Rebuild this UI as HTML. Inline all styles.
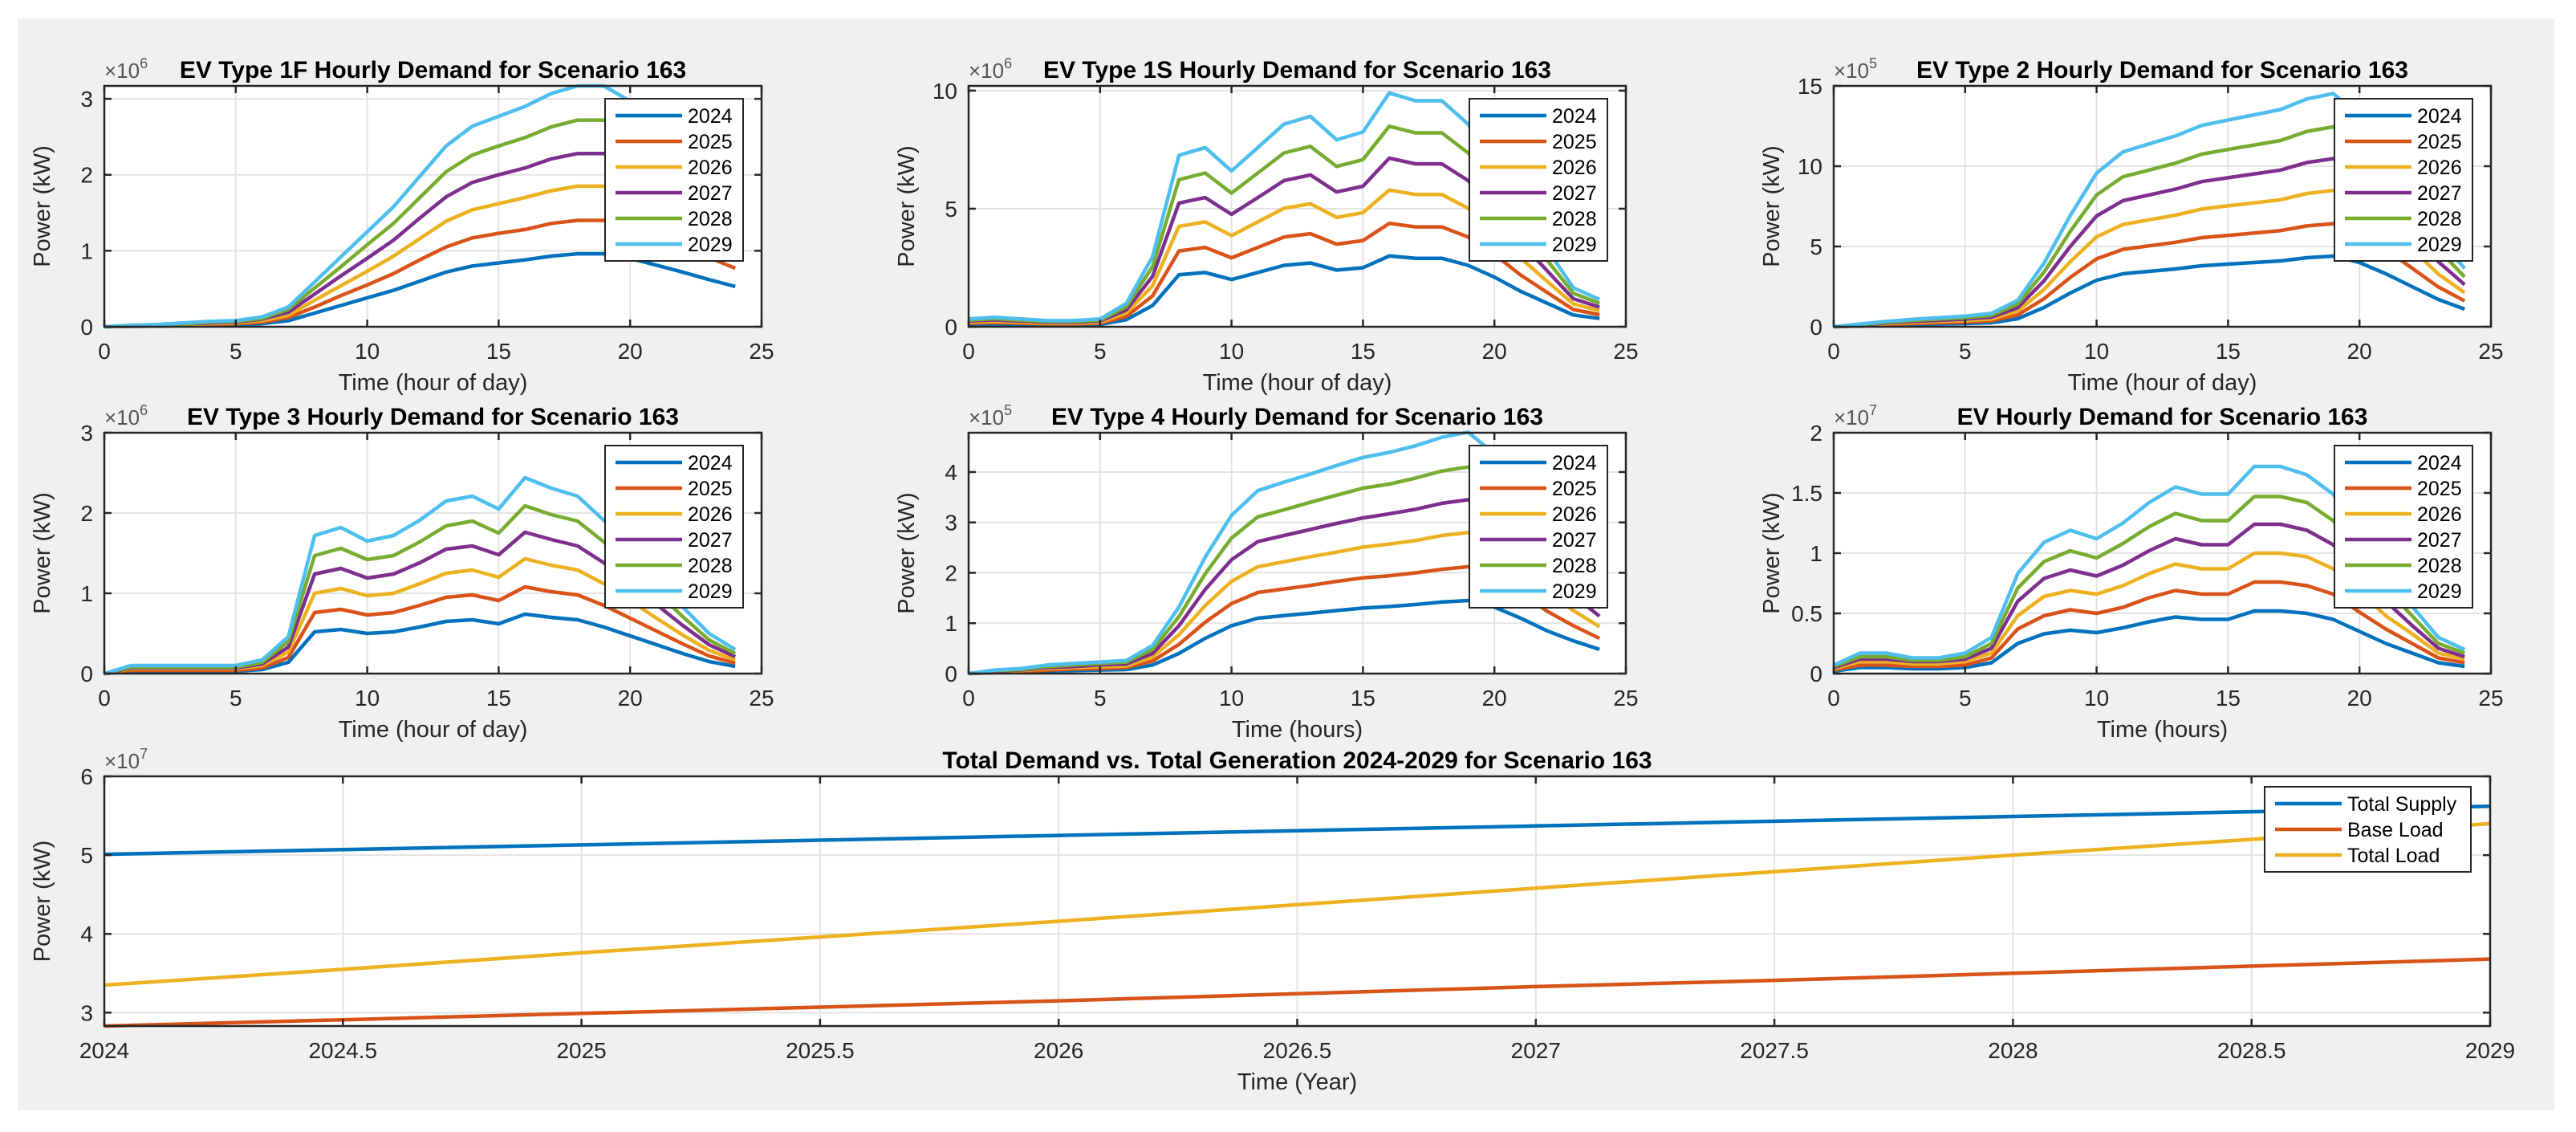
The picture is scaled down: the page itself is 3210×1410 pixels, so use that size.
<!DOCTYPE html>
<html><head><meta charset="utf-8">
<style>
html,body{margin:0;padding:0;background:#fff;}
svg{display:block;font-family:"Liberation Sans",Arial,sans-serif;}
</style></head>
<body>
<svg id="fig" width="3210" height="1410" viewBox="0 0 3210 1410" xmlns="http://www.w3.org/2000/svg">
<rect x="22" y="23" width="3161" height="1360" fill="#f0f0f0"/>
</svg>
<script>
// ---------- DATA ----------
const hours = [0,1,2,3,4,5,6,7,8,9,10,11,12,13,14,15,16,17,18,19,20,21,22,23,24];
const years = ['2024','2025','2026','2027','2028','2029'];

const t1f_2024 = [0,0.005,0.01,0.015,0.02,0.025,0.04,0.08,0.18,0.28,0.38,0.48,0.6,0.72,0.8,0.84,0.88,0.93,0.96,0.96,0.9,0.81,0.72,0.62,0.53];
const t1f_2025 = [0,0.01,0.015,0.02,0.03,0.04,0.06,0.12,0.26,0.41,0.55,0.70,0.88,1.05,1.17,1.23,1.28,1.36,1.40,1.40,1.31,1.18,1.05,0.91,0.77];
const t1f_2026 = [0,0.01,0.02,0.03,0.04,0.05,0.08,0.15,0.35,0.54,0.73,0.93,1.16,1.39,1.54,1.62,1.70,1.79,1.85,1.85,1.74,1.56,1.39,1.20,1.02];
const t1f_2027 = [0,0.01,0.02,0.04,0.05,0.06,0.10,0.19,0.43,0.67,0.90,1.14,1.43,1.71,1.90,2.00,2.09,2.21,2.28,2.28,2.14,1.93,1.71,1.48,1.26];
const t1f_2028 = [0,0.01,0.03,0.04,0.06,0.07,0.11,0.23,0.51,0.79,1.08,1.36,1.70,2.04,2.26,2.38,2.49,2.63,2.72,2.72,2.55,2.29,2.04,1.75,1.50];
const t1f_2029 = [0,0.02,0.03,0.05,0.07,0.08,0.13,0.26,0.59,0.92,1.25,1.58,1.98,2.38,2.64,2.77,2.90,3.07,3.17,3.17,2.97,2.67,2.38,2.05,1.75];

const t1s_2024 = [0.1,0.12,0.1,0.08,0.08,0.1,0.3,0.9,2.2,2.3,2.0,2.3,2.6,2.7,2.4,2.5,3.0,2.9,2.9,2.6,2.1,1.5,1.0,0.5,0.35];
const t1s_2025 = [0.15,0.18,0.15,0.12,0.12,0.15,0.44,1.31,3.21,3.36,2.92,3.36,3.80,3.94,3.50,3.65,4.38,4.23,4.23,3.80,3.07,2.19,1.46,0.73,0.51];
const t1s_2026 = [0.19,0.23,0.19,0.15,0.15,0.19,0.58,1.74,4.25,4.44,3.86,4.44,5.02,5.21,4.63,4.83,5.79,5.60,5.60,5.02,4.05,2.90,1.93,0.97,0.68];
const t1s_2027 = [0.24,0.29,0.24,0.19,0.19,0.24,0.71,2.14,5.24,5.47,4.76,5.47,6.19,6.43,5.71,5.95,7.14,6.90,6.90,6.19,5.00,3.57,2.38,1.19,0.83];
const t1s_2028 = [0.28,0.34,0.28,0.23,0.23,0.28,0.85,2.55,6.23,6.51,5.66,6.51,7.36,7.64,6.79,7.08,8.49,8.21,8.21,7.36,5.94,4.25,2.83,1.42,0.99];
const t1s_2029 = [0.33,0.40,0.33,0.26,0.26,0.33,0.99,2.97,7.26,7.59,6.60,7.59,8.58,8.91,7.92,8.25,9.90,9.57,9.57,8.58,6.93,4.95,3.30,1.65,1.16];

const t2_2024 = [0,0.05,0.1,0.14,0.17,0.2,0.25,0.5,1.2,2.1,2.9,3.3,3.45,3.6,3.8,3.9,4.0,4.1,4.3,4.4,4.0,3.3,2.5,1.7,1.1];
const t2_2025 = [0,0.07,0.15,0.20,0.25,0.29,0.37,0.73,1.75,3.07,4.23,4.82,5.04,5.26,5.55,5.69,5.84,5.99,6.28,6.42,5.84,4.82,3.65,2.48,1.61];
const t2_2026 = [0,0.10,0.19,0.27,0.33,0.39,0.48,0.97,2.32,4.05,5.60,6.37,6.66,6.95,7.33,7.53,7.72,7.91,8.30,8.49,7.72,6.37,4.83,3.28,2.12];
const t2_2027 = [0,0.12,0.24,0.33,0.40,0.48,0.60,1.19,2.86,5.00,6.90,7.85,8.21,8.57,9.04,9.28,9.52,9.76,10.23,10.47,9.52,7.85,5.95,4.05,2.62];
const t2_2028 = [0,0.14,0.28,0.40,0.48,0.57,0.71,1.42,3.40,5.94,8.21,9.34,9.76,10.19,10.75,11.04,11.32,11.60,12.17,12.45,11.32,9.34,7.08,4.81,3.11];
const t2_2029 = [0,0.17,0.33,0.46,0.56,0.66,0.83,1.65,3.96,6.93,9.57,10.89,11.39,11.88,12.54,12.87,13.20,13.53,14.19,14.52,13.20,10.89,8.25,5.61,3.63];

const t3_2024 = [0,0.03,0.03,0.03,0.03,0.03,0.05,0.14,0.52,0.55,0.50,0.52,0.58,0.65,0.67,0.62,0.74,0.70,0.67,0.58,0.47,0.36,0.25,0.15,0.09];
const t3_2025 = [0,0.04,0.04,0.04,0.04,0.04,0.07,0.20,0.76,0.80,0.73,0.76,0.85,0.95,0.98,0.91,1.08,1.02,0.98,0.85,0.69,0.53,0.37,0.22,0.13];
const t3_2026 = [0,0.06,0.06,0.06,0.06,0.06,0.10,0.27,1.00,1.06,0.97,1.00,1.12,1.25,1.29,1.20,1.43,1.35,1.29,1.12,0.91,0.69,0.48,0.29,0.17];
const t3_2027 = [0,0.07,0.07,0.07,0.07,0.07,0.12,0.33,1.24,1.31,1.19,1.24,1.38,1.55,1.59,1.48,1.76,1.67,1.59,1.38,1.12,0.86,0.60,0.36,0.21];
const t3_2028 = [0,0.08,0.08,0.08,0.08,0.08,0.14,0.40,1.47,1.56,1.42,1.47,1.64,1.84,1.90,1.75,2.09,1.98,1.90,1.64,1.33,1.02,0.71,0.42,0.25];
const t3_2029 = [0,0.10,0.10,0.10,0.10,0.10,0.17,0.46,1.72,1.82,1.65,1.72,1.91,2.15,2.21,2.05,2.44,2.31,2.21,1.91,1.55,1.19,0.83,0.50,0.30];

const t4_2024 = [0,0.02,0.03,0.05,0.06,0.07,0.08,0.17,0.4,0.7,0.95,1.1,1.15,1.2,1.25,1.3,1.33,1.37,1.42,1.45,1.32,1.1,0.85,0.65,0.48];
const t4_2025 = [0,0.03,0.04,0.07,0.09,0.10,0.12,0.25,0.58,1.02,1.39,1.61,1.68,1.75,1.83,1.90,1.94,2.00,2.07,2.12,1.93,1.61,1.24,0.95,0.70];
const t4_2026 = [0,0.04,0.06,0.10,0.12,0.14,0.15,0.33,0.77,1.35,1.83,2.12,2.22,2.32,2.41,2.51,2.57,2.64,2.74,2.80,2.55,2.12,1.64,1.25,0.93];
const t4_2027 = [0,0.05,0.07,0.12,0.14,0.17,0.19,0.40,0.95,1.67,2.26,2.62,2.74,2.86,2.98,3.09,3.17,3.26,3.38,3.45,3.14,2.62,2.02,1.55,1.14];
const t4_2028 = [0,0.06,0.08,0.14,0.17,0.20,0.23,0.48,1.13,1.98,2.69,3.11,3.25,3.40,3.54,3.68,3.76,3.88,4.02,4.10,3.74,3.11,2.41,1.84,1.36];
const t4_2029 = [0,0.07,0.10,0.17,0.20,0.23,0.26,0.56,1.32,2.31,3.14,3.63,3.80,3.96,4.13,4.29,4.39,4.52,4.69,4.79,4.36,3.63,2.81,2.15,1.58];

const ev_2024 = [0.02,0.05,0.05,0.04,0.04,0.05,0.09,0.25,0.33,0.36,0.34,0.38,0.43,0.47,0.45,0.45,0.52,0.52,0.5,0.45,0.35,0.25,0.17,0.09,0.06];
const ev_2025 = [0.03,0.07,0.07,0.06,0.06,0.07,0.13,0.37,0.48,0.53,0.50,0.55,0.63,0.69,0.66,0.66,0.76,0.76,0.73,0.66,0.51,0.37,0.25,0.13,0.09];
const ev_2026 = [0.04,0.10,0.10,0.08,0.08,0.10,0.17,0.48,0.64,0.69,0.66,0.73,0.83,0.91,0.87,0.87,1.00,1.00,0.97,0.87,0.68,0.48,0.33,0.17,0.12];
const ev_2027 = [0.05,0.12,0.12,0.10,0.10,0.12,0.21,0.60,0.79,0.86,0.81,0.90,1.02,1.12,1.07,1.07,1.24,1.24,1.19,1.07,0.83,0.60,0.40,0.21,0.14];
const ev_2028 = [0.06,0.14,0.14,0.11,0.11,0.14,0.25,0.71,0.93,1.02,0.96,1.08,1.22,1.33,1.27,1.27,1.47,1.47,1.42,1.27,0.99,0.71,0.48,0.25,0.17];
const ev_2029 = [0.07,0.17,0.17,0.13,0.13,0.17,0.30,0.83,1.09,1.19,1.12,1.25,1.42,1.55,1.49,1.49,1.72,1.72,1.65,1.49,1.16,0.83,0.56,0.30,0.20];

const yearTime = [2024,2024.5,2025,2025.5,2026,2026.5,2027,2027.5,2028,2028.5,2029];
const totalSupply = [5.01,5.07,5.13,5.19,5.25,5.31,5.37,5.43,5.49,5.55,5.62];
const baseLoad = [2.83,2.91,2.99,3.07,3.15,3.24,3.33,3.41,3.50,3.59,3.68];
const totalLoad = [3.35,3.55,3.76,3.96,4.16,4.37,4.58,4.79,5.0,5.2,5.4];

const hourTicks = [0,5,10,15,20,25];
const yTicks1 = [0,1,2,3];
const yTicks2 = [0,5,10];
const yTicks3 = [0,5,10,15];
const yTicks4 = [0,1,2,3];
const yTicks5 = [0,1,2,3,4];
const yTicks6 = [0,0.5,1,1.5,2];
const yTickLabels6 = ['0','0.5','1','1.5','2'];
const yearTicks = [2024,2024.5,2025,2025.5,2026,2026.5,2027,2027.5,2028,2028.5,2029];
const yTicksBottom = [3,4,5,6];
const bottomLegend = ['Total Supply','Base Load','Total Load'];

// ---------- RENDER ----------
const NS = 'http://www.w3.org/2000/svg';
const svg = document.getElementById('fig');
const COLORS = ['#0072BD','#D95319','#EDB120','#7E2F8E','#77AC30','#4DBEEE'];

function mk(tag, attrs, parent){
  const e = document.createElementNS(NS, tag);
  for (const k in attrs) e.setAttribute(k, attrs[k]);
  (parent||svg).appendChild(e);
  return e;
}
function txt(str, attrs, parent){
  const e = mk('text', attrs, parent);
  e.textContent = str;
  return e;
}

function drawAxes(cfg){
  const g = mk('g', {});
  
  
  const L=cfg.left, R=cfg.right, T=cfg.top, B=cfg.bottom;
  const sx = v => L + (v-cfg.xmin)/(cfg.xmax-cfg.xmin)*(R-L);
  const sy = v => B - (v-cfg.ymin)/(cfg.ymax-cfg.ymin)*(B-T);
  const bg = mk('rect', {x:L, y:T, width:R-L, height:B-T, fill:'#fff'}, g);
  
  
  cfg.xticks.forEach(v => {
    const gl = mk('line', {x1:sx(v), x2:sx(v), y1:T, y2:B, stroke:'#e3e3e3', 'stroke-width':2}, g);
    
    
  });
  cfg.yticks.forEach(v => {
    const gl = mk('line', {x1:L, x2:R, y1:sy(v), y2:sy(v), stroke:'#e3e3e3', 'stroke-width':2}, g);
    
    
  });
  const cp = mk('clipPath', {id:'clip-'+cfg.id}, g);
  mk('rect', {x:L-3, y:T-8, width:R-L+6, height:B-T+11}, cp);
  cfg.series.forEach((s, i) => {
    const d = s.y.map((v, j) => (j ? 'L' : 'M') + sx(cfg.x[j]).toFixed(1) + ',' + sy(v).toFixed(1)).join(' ');
    const p = mk('path', {d:d, fill:'none', stroke:s.color, 'stroke-width':cfg.lw||4.5, 'stroke-linejoin':'round', 'clip-path':'url(#clip-'+cfg.id+')'}, g);
    
    
  });
  const box = mk('rect', {x:L, y:T, width:R-L, height:B-T, fill:'none', stroke:'#262626', 'stroke-width':2.5}, g);
  
  
  cfg.xticks.forEach((v, i) => {
    mk('line', {x1:sx(v), x2:sx(v), y1:B, y2:B-9, stroke:'#262626', 'stroke-width':2.5}, g);
    mk('line', {x1:sx(v), x2:sx(v), y1:T, y2:T+9, stroke:'#262626', 'stroke-width':2.5}, g);
    const t = txt(cfg.xtickLabels ? cfg.xtickLabels[i] : String(v), {x:sx(v), y:B+40, 'font-size':28, 'text-anchor':'middle', fill:'#262626'}, g);
    
    
  });
  cfg.yticks.forEach((v, i) => {
    mk('line', {x1:L, x2:L+9, y1:sy(v), y2:sy(v), stroke:'#262626', 'stroke-width':2.5}, g);
    mk('line', {x1:R, x2:R-9, y1:sy(v), y2:sy(v), stroke:'#262626', 'stroke-width':2.5}, g);
    const t = txt(cfg.ytickLabels ? cfg.ytickLabels[i] : String(v), {x:L-14, y:sy(v)+10, 'font-size':28, 'text-anchor':'end', fill:'#262626'}, g);
    
    
  });
  const ex = txt('', {x:L, y:T-10, 'font-size':26, fill:'#555'}, g);
  
  
  ex.appendChild(document.createTextNode('\u00d710'));
  const sup = mk('tspan', {dy:-12, 'font-size':18}, ex);
  sup.textContent = cfg.exp;
  const ti = txt(cfg.title, {x:(L+R)/2, y:T-10, 'font-size':30, 'font-weight':'bold', 'text-anchor':'middle', fill:'#000'}, g);
  
  
  const xl = txt(cfg.xlabel, {x:(L+R)/2, y:B+79, 'font-size':29, 'text-anchor':'middle', fill:'#262626'}, g);
  
  
  const yx = L-68, yy = (T+B)/2;
  const yl = txt('Power (kW)', {x:yx, y:yy, 'font-size':29, 'text-anchor':'middle', fill:'#262626', transform:'rotate(-90 '+yx+' '+yy+')'}, g);
  
  
  const lg = mk('g', {}, g);
  
  
  const lw = cfg.legendW, lh = cfg.series.length*32 + 10;
  const lx = R - cfg.legendRight - lw, ly = T + cfg.legendTop;
  mk('rect', {x:lx, y:ly, width:lw, height:lh, fill:'#fff', stroke:'#262626', 'stroke-width':2}, lg);
  cfg.series.forEach((s, i) => {
    const e = mk('g', {}, lg);
    
    
    const cy = ly + 21 + i*32;
    mk('line', {x1:lx+13, x2:lx+96, y1:cy, y2:cy, stroke:s.color, 'stroke-width':4.5}, e);
    txt(s.label, {x:lx+103, y:cy+9, 'font-size':25, fill:'#000'}, e);
  });
}

function hourSeries(arrs){ return arrs.map((a, i) => ({y:a, color:COLORS[i], label:years[i]})); }

const colL = [130, 1207, 2285], colR = [949, 2026, 3104];
const row = [{top:107, bottom:407},{top:539, bottom:839}];
const common = {xmin:0, xmax:25, ymin:0, x:hours, xticks:hourTicks, legendW:172, legendRight:23, legendTop:16};

drawAxes(Object.assign({}, common, {id:'p1', name:'ev-type-1f-chart', left:colL[0], right:colR[0], top:row[0].top, bottom:row[0].bottom, ymax:3.17, yticks:yTicks1, exp:'6', title:'EV Type 1F Hourly Demand for Scenario 163', xlabel:'Time (hour of day)', series:hourSeries([t1f_2024,t1f_2025,t1f_2026,t1f_2027,t1f_2028,t1f_2029])}));
drawAxes(Object.assign({}, common, {id:'p2', name:'ev-type-1s-chart', left:colL[1], right:colR[1], top:row[0].top, bottom:row[0].bottom, ymax:10.2, yticks:yTicks2, exp:'6', title:'EV Type 1S Hourly Demand for Scenario 163', xlabel:'Time (hour of day)', series:hourSeries([t1s_2024,t1s_2025,t1s_2026,t1s_2027,t1s_2028,t1s_2029])}));
drawAxes(Object.assign({}, common, {id:'p3', name:'ev-type-2-chart', left:colL[2], right:colR[2], top:row[0].top, bottom:row[0].bottom, ymax:15, yticks:yTicks3, exp:'5', title:'EV Type 2 Hourly Demand for Scenario 163', xlabel:'Time (hour of day)', series:hourSeries([t2_2024,t2_2025,t2_2026,t2_2027,t2_2028,t2_2029])}));
drawAxes(Object.assign({}, common, {id:'p4', name:'ev-type-3-chart', left:colL[0], right:colR[0], top:row[1].top, bottom:row[1].bottom, ymax:3, yticks:yTicks4, exp:'6', title:'EV Type 3 Hourly Demand for Scenario 163', xlabel:'Time (hour of day)', series:hourSeries([t3_2024,t3_2025,t3_2026,t3_2027,t3_2028,t3_2029])}));
drawAxes(Object.assign({}, common, {id:'p5', name:'ev-type-4-chart', left:colL[1], right:colR[1], top:row[1].top, bottom:row[1].bottom, ymax:4.78, yticks:yTicks5, exp:'5', title:'EV Type 4 Hourly Demand for Scenario 163', xlabel:'Time (hours)', series:hourSeries([t4_2024,t4_2025,t4_2026,t4_2027,t4_2028,t4_2029])}));
drawAxes(Object.assign({}, common, {id:'p6', name:'ev-total-hourly-chart', left:colL[2], right:colR[2], top:row[1].top, bottom:row[1].bottom, ymax:2, yticks:yTicks6, ytickLabels:yTickLabels6, exp:'7', title:'EV Hourly Demand for Scenario 163', xlabel:'Time (hours)', series:hourSeries([ev_2024,ev_2025,ev_2026,ev_2027,ev_2028,ev_2029])}));
drawAxes({id:'p7', name:'total-demand-vs-generation-chart', left:130, right:3103, top:967, bottom:1278, xmin:2024, xmax:2029, ymin:2.83, ymax:6, x:yearTime, xticks:yearTicks, yticks:yTicksBottom, exp:'7', title:'Total Demand vs. Total Generation 2024-2029 for Scenario 163', xlabel:'Time (Year)', legendW:257, legendRight:24, legendTop:13,
  series:[{y:totalSupply, color:COLORS[0], label:bottomLegend[0]},{y:baseLoad, color:COLORS[1], label:bottomLegend[1]},{y:totalLoad, color:COLORS[2], label:bottomLegend[2]}]});
</script>
</body></html>
